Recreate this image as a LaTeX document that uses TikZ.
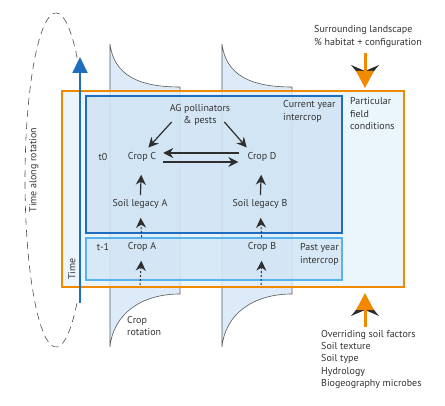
\documentclass[tikz,border=0pt]{standalone}
\usepackage{fontspec}
\setmainfont{PT Sans}
\usetikzlibrary{arrows.meta}
\definecolor{fieldorange}{HTML}{F18A00}
\definecolor{curblue}{HTML}{1F6DBE}
\definecolor{pastblue}{HTML}{58B2EE}
\definecolor{fieldfill}{HTML}{E4F1FB}
\definecolor{curfill}{HTML}{CCE1F3}
\definecolor{pastfill}{HTML}{CFE3F4}
\definecolor{rotfill}{HTML}{DCEBF7}
\definecolor{textgray}{HTML}{333333}
\definecolor{arrowgray}{HTML}{2E2E2E}
\tikzset{
  lbl/.style={text=textgray, inner sep=1pt},
  flow/.style={draw=arrowgray, line width=1.2pt, -{Stealth[length=10pt,width=10pt]}},
  dflow/.style={draw=arrowgray, line width=1pt, dash pattern=on 2pt off 2pt,
    -{Stealth[length=10pt,width=10pt]}},
  rotline/.style={draw=black!65, line width=0.6pt, fill=rotfill},
}
\begin{document}
\begin{tikzpicture}[x=1pt,y=-1pt, font=\fontsize{10}{12.5}\selectfont]
  \useasboundingbox (0,0) rectangle (445,406);
  % rotation loop
  \draw[black!70, line width=0.6pt, dash pattern=on 7pt off 5pt]
    plot[domain=47:313, samples=90] ({56+31*cos(\x)}, {180-167*sin(\x)});
  % crop rotation shapes
  \foreach \s in {0,112}
    \draw[rotline, shift={(\s,0)}]
      (110,44) .. controls (114,76) and (140,87) .. (180,87) -- (180,294)
      .. controls (140,294) and (113,315) .. (110,347) -- cycle;
  % boxes
  \draw[draw=fieldorange, line width=1.8pt, fill=fieldfill, fill opacity=0.75]
    (62,91) rectangle (404,287);
  \draw[draw=curblue, line width=1.6pt, fill=curfill, fill opacity=0.7]
    (86,96) rectangle (342,233);
  \draw[draw=pastblue, line width=1.6pt, fill=pastfill, fill opacity=0.7]
    (86,238) rectangle (342,280);
  % time arrow
  \coordinate (timebot) at (80,303);
  \coordinate (timetop) at (80,57);
  \draw[curblue, line width=2pt, -{Triangle[length=16pt,width=15pt]}] (timebot) -- (timetop);
  % labels
  \draw
    (34,170) node[lbl, rotate=90] (rot){Time along rotation}
    (72,269) node[lbl, rotate=90] (time){Time}
    (313,36.5) node[lbl, anchor=west, align=left] (land){Surrounding landscape\\\% habitat + configuration}
    (349,114) node[lbl, anchor=west, align=left] (field){Particular\\field\\conditions}
    (282,111.5) node[lbl, anchor=west, align=left] (cur){Current year\\intercrop}
    (200,115) node[lbl, align=center] (ag){AG pollinators\\\& pests}
    (103,157) node[lbl] (t0){t0}
    (142,157) node[lbl] (cropC){Crop C}
    (262,157) node[lbl] (cropD){Crop D}
    (140,204) node[lbl] (soilA){Soil legacy A}
    (260,204) node[lbl] (soilB){Soil legacy B}
    (103,247) node[lbl] (tm1){t-1}
    (142,247) node[lbl] (cropA){Crop A}
    (262,247) node[lbl] (cropB){Crop B}
    (299,254.5) node[lbl, anchor=west, align=left] (past){Past year\\intercrop}
    (126,326) node[lbl, anchor=west, align=left] (croprot){Crop\\rotation}
    (320,359.5) node[lbl, anchor=west, align=left] (soil){Overriding soil factors\\Soil texture\\Soil type\\Hydrology\\Biogeography microbes};
  \coordinate (baseA) at (140,285);
  \coordinate (baseB) at (261,285);
  % interactions
  \begin{scope}[flow]
    \draw[shorten >=5pt] ([shift={(3pt,5pt)}]ag.south west) -- ([xshift=3pt]cropC.north);
    \draw[shorten >=5pt] ([shift={(-7pt,5pt)}]ag.south east) -- ([xshift=-12pt]cropD.north);
    \draw[shorten <=7pt, shorten >=6pt] ([yshift=4pt]cropD.west) -- ([yshift=4pt]cropC.east);
    \draw[shorten <=6pt, shorten >=8pt] ([yshift=-5pt]cropC.east) -- ([yshift=-5pt]cropD.west);
    \draw[shorten <=3pt, shorten >=12pt] (soilA) -- (cropC);
    \draw[shorten <=3pt, shorten >=12pt] (soilB) -- (cropD);
  \end{scope}
  \begin{scope}[dflow]
    \draw[shorten <=4pt, shorten >=8pt] (cropA) -- (soilA);
    \draw[shorten <=4pt, shorten >=8pt] (cropB) -- (soilB);
    \draw[shorten >=8pt] (baseA) -- (cropA);
    \draw[shorten >=8pt] (baseB) -- (cropB);
  \end{scope}
  % external drivers
  \coordinate (landtop) at (365,53);
  \coordinate (landtip) at (365,88);
  \coordinate (soiltip) at (365,293);
  \coordinate (soilbot) at (365,327);
  \fill[arrowgray] ([shift={(-14,-23)}]landtip) -- ([shift={(0,-17)}]landtip)
    -- ([shift={(14,-23)}]landtip) -- ([shift={(0,-6)}]landtip) -- cycle;
  \fill[fieldorange] ([shift={(-9,-17)}]landtip) -- ([shift={(9,-17)}]landtip) -- (landtip) -- cycle;
  \draw[fieldorange, line width=3pt] (landtop) -- ([shift={(0,-15)}]landtip);
  \fill[arrowgray] ([shift={(-14,23)}]soiltip) -- ([shift={(0,17)}]soiltip)
    -- ([shift={(14,23)}]soiltip) -- ([shift={(0,6)}]soiltip) -- cycle;
  \fill[fieldorange] ([shift={(-9,17)}]soiltip) -- ([shift={(9,17)}]soiltip) -- (soiltip) -- cycle;
  \draw[fieldorange, line width=3pt] (soilbot) -- ([shift={(0,15)}]soiltip);
\end{tikzpicture}
\end{document}
